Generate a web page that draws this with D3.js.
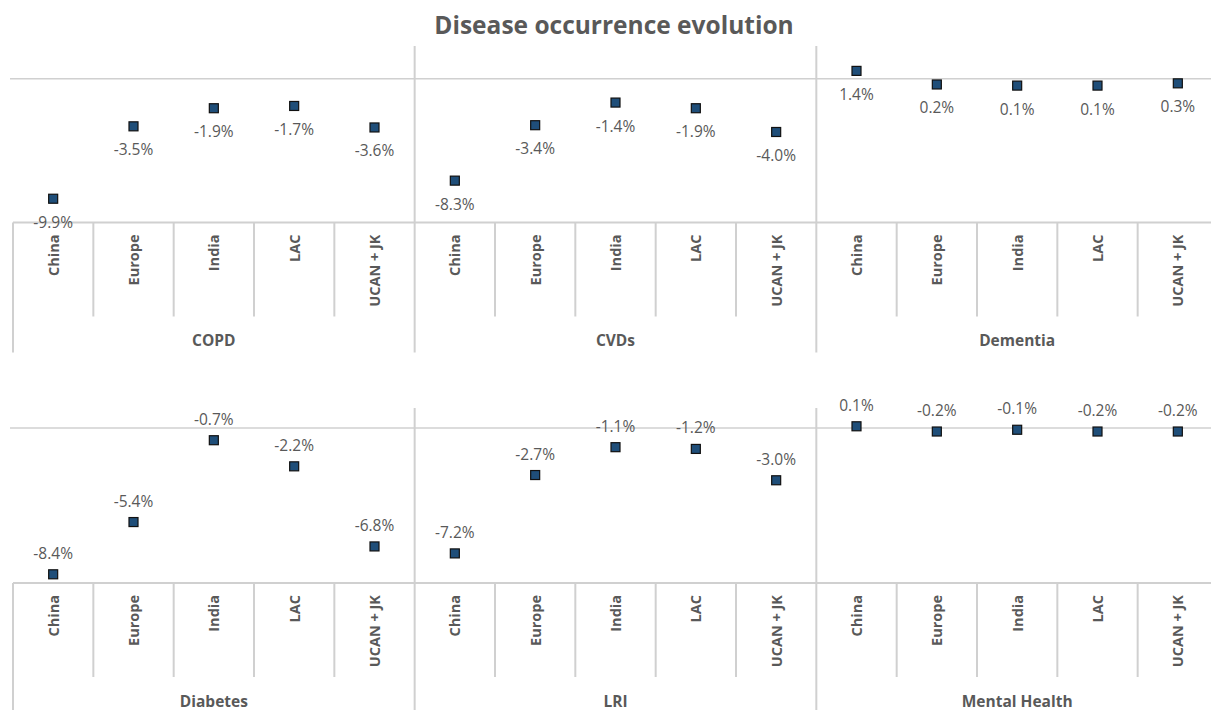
<!DOCTYPE html>
<html>
<head>
<meta charset="utf-8">
<script src="https://cdn.jsdelivr.net/npm/d3@7"></script>
<style>
  html, body { margin: 0; padding: 0; background: #ffffff; }
  svg { display: block; }
  text { font-family: "Open Sans", "Liberation Sans", sans-serif; fill: #595959; }
</style>
</head>
<body>
<svg id="chart" width="1211" height="710"></svg>
<script>
// Regions shared by every disease
const regions = ["China", "Europe", "India", "LAC", "UCAN + JK"];

// Diseases shown in the upper row and their change in occurrence (%)
const topDiseases = ["COPD", "CVDs", "Dementia"];
const copd     = [-9.9, -3.5, -1.9, -1.7, -3.6];
const cvds     = [-8.3, -3.4, -1.4, -1.9, -4.0];
const dementia = [1.4, 0.2, 0.1, 0.1, 0.3];

// Diseases shown in the lower row
const bottomDiseases = ["Diabetes", "LRI", "Mental Health"];
const diabetes     = [-8.4, -5.4, -0.7, -2.2, -6.8];
const lri          = [-7.2, -2.7, -1.1, -1.2, -3.0];
const mentalHealth = [0.1, -0.2, -0.1, -0.2, -0.2];

// Value axis ranges (%) and where the horizontal axis line crosses
const topDomain = [-12, 3.6];
const bottomDomain = [-8.9, 1.15];
const topCross = 0.7;
const bottomCross = 0;

const title = "Disease occurrence evolution";

const svg = d3.select("#chart");
const W = 1211;
const lineColor = "#d0d0d0";
const markerFill = "#1f4e79";

// percentage label with a plain hyphen for negatives
const pct = v => (v < 0 ? "-" : "") + Math.abs(v).toFixed(1) + "%";

svg.append("text")
  .attr("x", 614).attr("y", 34)
  .attr("text-anchor", "middle")
  .style("font-size", "24.5px").style("font-weight", 700)
  .text(title);

function drawRow(cfg) {
  const { diseases, series, domain, cross, plotTop, boxTop, labelBelow } = cfg;
  const keys = [];
  diseases.forEach((d, gi) => regions.forEach((r, ri) => keys.push(gi + "|" + ri)));

  const x = d3.scaleBand().domain(keys).range([13, 1218]).padding(0);
  const y = d3.scaleLinear().domain(domain).range([boxTop, plotTop]);
  const bw = x.bandwidth();
  const tickLen = 94, groupLen = 130;

  const g = svg.append("g");

  // horizontal axis line inside the plot
  g.append("line")
    .attr("x1", 10).attr("x2", W)
    .attr("y1", y(cross)).attr("y2", y(cross))
    .attr("stroke", lineColor).attr("stroke-width", 1.6);

  // vertical dividers between disease groups through the plot area
  diseases.forEach((d, gi) => {
    if (gi === 0) return;
    const gx = x(gi + "|0");
    g.append("line")
      .attr("x1", gx).attr("x2", gx)
      .attr("y1", plotTop).attr("y2", boxTop)
      .attr("stroke", lineColor).attr("stroke-width", 2);
  });

  // category axis: top line, region ticks, group separators
  g.append("line")
    .attr("x1", 13).attr("x2", W)
    .attr("y1", boxTop).attr("y2", boxTop)
    .attr("stroke", lineColor).attr("stroke-width", 2);

  keys.forEach((k, i) => {
    const kx = x(k);
    const isGroupEdge = i % regions.length === 0;
    g.append("line")
      .attr("x1", kx).attr("x2", kx)
      .attr("y1", boxTop).attr("y2", boxTop + (isGroupEdge ? groupLen : tickLen))
      .attr("stroke", lineColor).attr("stroke-width", 2);
  });
  const endX = x.range()[1];
  g.append("line")
    .attr("x1", endX).attr("x2", endX)
    .attr("y1", boxTop).attr("y2", boxTop + groupLen)
    .attr("stroke", lineColor).attr("stroke-width", 2);

  // region labels (rotated)
  keys.forEach(k => {
    const ri = +k.split("|")[1];
    const cx = x(k) + bw / 2;
    const ty = boxTop + 12;
    g.append("text")
      .attr("transform", `translate(${cx + 5.5},${ty}) rotate(-90)`)
      .attr("text-anchor", "end")
      .style("font-size", "14.5px").style("font-weight", 700)
      .text(regions[ri]);
  });

  // disease group labels
  diseases.forEach((d, gi) => {
    const gx0 = x(gi + "|0");
    const gx1 = x(gi + "|" + (regions.length - 1)) + bw;
    g.append("text")
      .attr("x", (gx0 + gx1) / 2)
      .attr("y", boxTop + tickLen + 29.5)
      .attr("text-anchor", "middle")
      .style("font-size", "15.5px").style("font-weight", 700)
      .text(d);
  });

  // markers and value labels
  const pts = [];
  diseases.forEach((d, gi) => series[gi].forEach((v, ri) => pts.push({ k: gi + "|" + ri, v })));

  const size = 9;
  g.selectAll("rect.marker").data(pts).enter().append("rect")
    .attr("class", "marker")
    .attr("x", p => x(p.k) + bw / 2 - size / 2)
    .attr("y", p => y(p.v) - size / 2)
    .attr("width", size).attr("height", size)
    .attr("fill", markerFill)
    .attr("stroke", "#111111").attr("stroke-width", 1.2);

  g.selectAll("text.val").data(pts).enter().append("text")
    .attr("class", "val")
    .attr("x", p => x(p.k) + bw / 2)
    .attr("y", p => y(p.v) + (labelBelow ? 29 : -15.5))
    .attr("text-anchor", "middle")
    .style("font-size", "15.5px")
    .text(p => pct(p.v));
}

drawRow({
  diseases: topDiseases,
  series: [copd, cvds, dementia],
  domain: topDomain,
  cross: topCross,
  plotTop: 46,
  boxTop: 222.5,
  labelBelow: true
});

drawRow({
  diseases: bottomDiseases,
  series: [diabetes, lri, mentalHealth],
  domain: bottomDomain,
  cross: bottomCross,
  plotTop: 408,
  boxTop: 583,
  labelBelow: false
});
</script>
</body>
</html>
